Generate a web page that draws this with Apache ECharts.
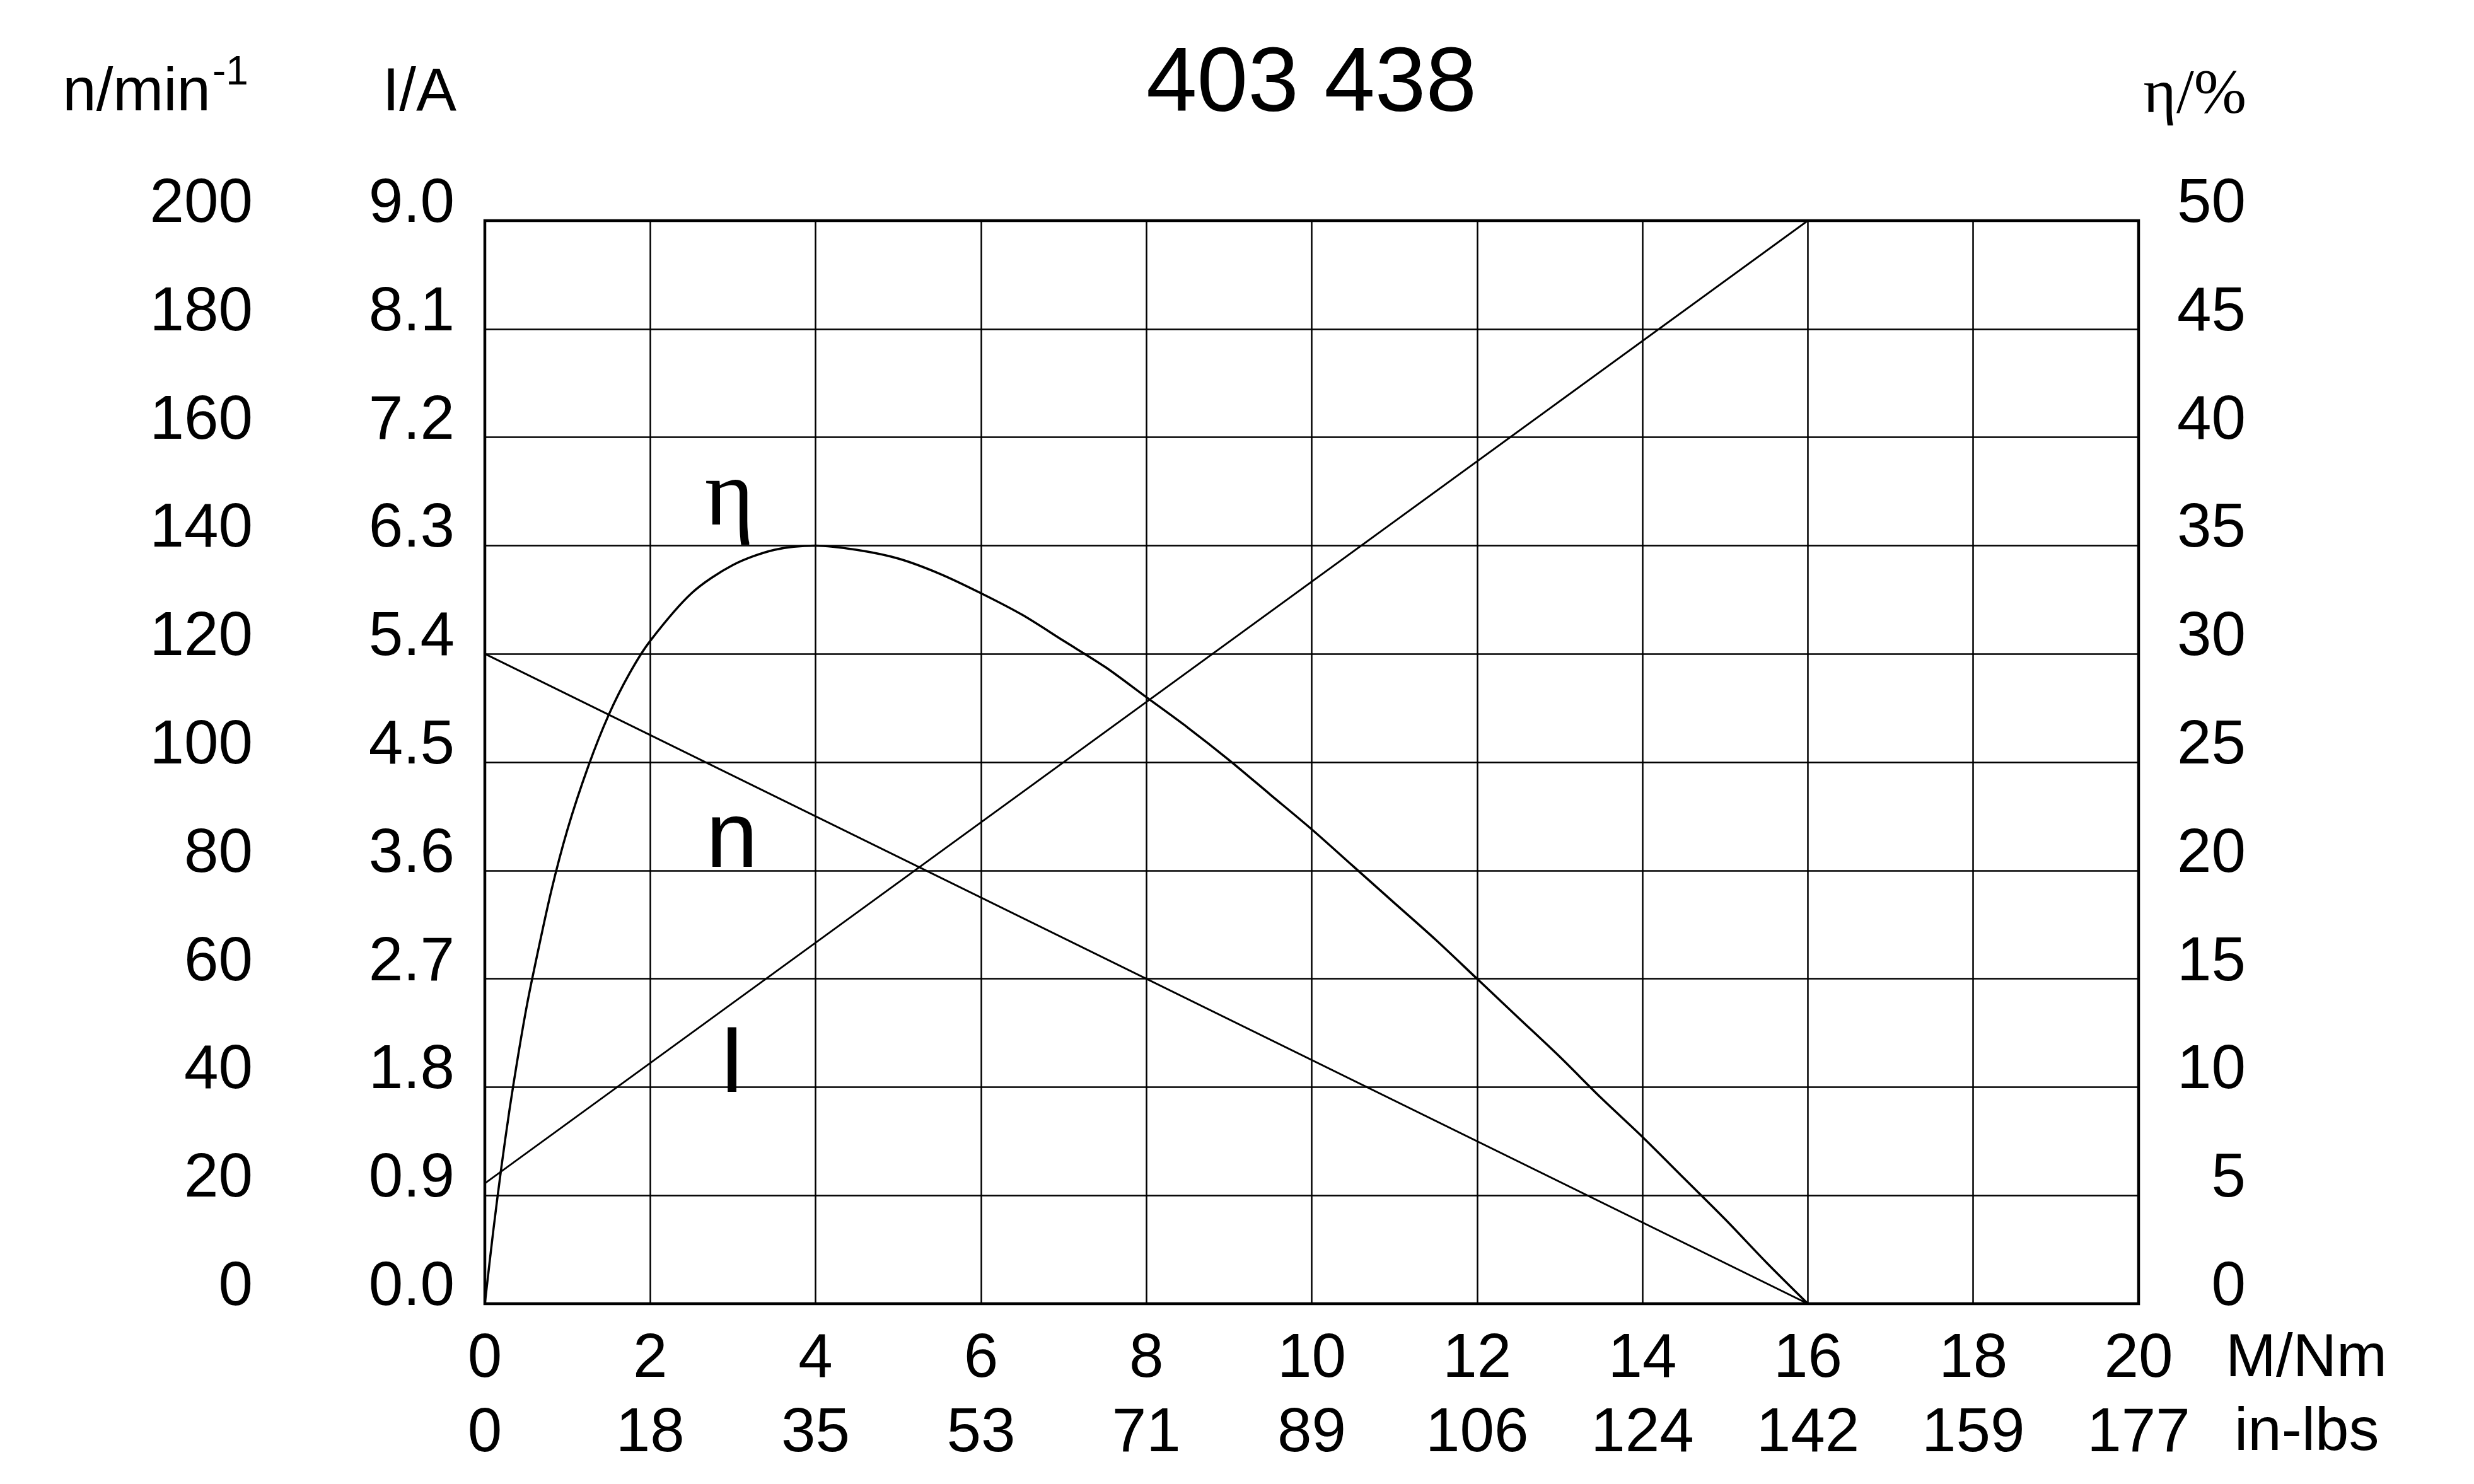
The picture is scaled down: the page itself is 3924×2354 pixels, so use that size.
<!DOCTYPE html>
<html>
<head>
<meta charset="utf-8">
<title>403 438</title>
<script src="https://cdn.jsdelivr.net/npm/echarts@6/dist/echarts.min.js"></script>
<style>
  html, body { margin: 0; padding: 0; background: #fff; }
  #chart { width: 3924px; height: 2354px; }
</style>
</head>
<body>
<div id="chart"></div>
<script>
// torque axis (M/Nm) and the matching in-lbs labels
const torqueTicks = [0, 2, 4, 6, 8, 10, 12, 14, 16, 18, 20];
const inLbsLabels = ['0', '18', '35', '53', '71', '89', '106', '124', '142', '159', '177'];

// n and I are straight lines, read at both ends
const lineTorque = [0, 16];
const speed = [120, 0];        // n / min-1
const current = [1.0, 9.0];    // I / A

// efficiency curve
const etaTorque = [0, 0.1, 0.2, 0.3, 0.4, 0.5, 0.6, 0.8, 1, 1.25, 1.5, 1.75, 2, 2.5, 3, 3.5, 4, 4.5, 5, 5.5, 6, 6.5, 7, 7.5, 8,
                   8.5, 9, 9.5, 10, 10.5, 11, 11.5, 12, 12.5, 13, 13.5, 14, 14.5, 15, 15.5, 16];
const efficiency = [0, 3.3, 6.3, 9.0, 11.4, 13.6, 15.5, 19.0, 21.9, 24.8, 27.2, 29.1, 30.6, 32.8, 34.1, 34.8, 35.0, 34.8, 34.4, 33.7, 32.8, 31.8, 30.6, 29.4, 28.0,
                    26.6, 25.1, 23.5, 21.9, 20.2, 18.5, 16.8, 15.0, 13.2, 11.4, 9.5, 7.7, 5.8, 3.9, 1.9, 0];

const sans = 'Liberation Sans, Arial, sans-serif';
const serif = 'Liberation Serif, Times New Roman, serif';
const black = '#000';

const pairs = (xs, ys) => xs.map((x, i) => [x, ys[i]]);

const chart = echarts.init(document.getElementById('chart'));

// y labels sit just above their grid line
const yLabel = {
  fontFamily: sans, fontSize: 98, color: black,
  align: 'right', verticalAlign: 'bottom', lineHeight: 50
};

const option = {
  backgroundColor: '#fff',
  animation: false,
  grid: {
    left: 769,
    top: 350,
    width: 2623,
    height: 1718,
    show: true,
    borderColor: black,
    borderWidth: 4.5,
    backgroundColor: 'transparent'
  },
  xAxis: [
    {
      type: 'value',
      min: 0,
      max: 20,
      interval: 2,
      axisLine: { show: false },
      axisTick: { show: false },
      splitLine: { show: true, lineStyle: { color: black, width: 2.5 } },
      axisLabel: {
        fontFamily: sans, fontSize: 98, color: black,
        margin: 89, verticalAlign: 'middle'
      }
    },
    {
      type: 'value',
      position: 'bottom',
      min: 0,
      max: 20,
      interval: 2,
      axisLine: { show: false },
      axisTick: { show: false },
      splitLine: { show: false },
      axisLabel: {
        fontFamily: sans, fontSize: 98, color: black,
        margin: 207, verticalAlign: 'middle',
        formatter: v => inLbsLabels[torqueTicks.indexOf(Math.round(v))]
      }
    }
  ],
  yAxis: [
    {
      // I / A
      type: 'value',
      position: 'left',
      min: 0,
      max: 9,
      interval: 0.9,
      axisLine: { show: false },
      axisTick: { show: false },
      splitLine: { show: true, lineStyle: { color: black, width: 2.5 } },
      axisLabel: Object.assign({ margin: 48, formatter: v => v.toFixed(1) }, yLabel)
    },
    {
      // n / min-1
      type: 'value',
      position: 'left',
      offset: 320,
      min: 0,
      max: 200,
      interval: 20,
      axisLine: { show: false },
      axisTick: { show: false },
      splitLine: { show: false },
      axisLabel: Object.assign({ margin: 48 }, yLabel)
    },
    {
      // eta / %
      type: 'value',
      position: 'right',
      min: 0,
      max: 50,
      interval: 5,
      axisLine: { show: false },
      axisTick: { show: false },
      splitLine: { show: false },
      axisLabel: Object.assign({ margin: 170 }, yLabel)
    }
  ],
  series: [
    {
      name: 'n',
      type: 'line',
      yAxisIndex: 1,
      data: pairs(lineTorque, speed),
      showSymbol: false,
      lineStyle: { color: black, width: 3 }
    },
    {
      name: 'I',
      type: 'line',
      yAxisIndex: 0,
      data: pairs(lineTorque, current),
      showSymbol: false,
      lineStyle: { color: black, width: 2.8 }
    },
    {
      name: 'η',
      type: 'line',
      yAxisIndex: 2,
      data: pairs(etaTorque, efficiency),
      smooth: 0.3,
      showSymbol: false,
      lineStyle: { color: black, width: 3.5 }
    }
  ],
  graphic: [
    { type: 'text', x: 2080, y: 136, style: { text: '403 438', font: '145px ' + sans, fill: black, align: 'center', verticalAlign: 'middle' } },
    { type: 'text', x: 334, y: 149, style: { text: 'n/min', font: '96px ' + sans, fill: black, align: 'right', verticalAlign: 'middle' } },
    { type: 'text', x: 337, y: 116, style: { text: '-1', font: '64px ' + sans, fill: black, align: 'left', verticalAlign: 'middle' } },
    { type: 'text', x: 724, y: 149, style: { text: 'I/A', font: '96px ' + sans, fill: black, align: 'right', verticalAlign: 'middle' } },
    { type: 'text', x: 3563, y: 152, style: { text: 'η/%', font: '100px ' + serif, fill: black, align: 'right', verticalAlign: 'middle' } },
    { type: 'text', x: 3530, y: 2157, style: { text: 'M/Nm', font: '96px ' + sans, fill: black, align: 'left', verticalAlign: 'middle' } },
    { type: 'text', x: 3544, y: 2274, style: { text: 'in-lbs', font: '96px ' + sans, fill: black, align: 'left', verticalAlign: 'middle' } },
    { type: 'text', x: 1157, y: 793, style: { text: 'η', font: '150px ' + serif, fill: black, align: 'center', verticalAlign: 'middle' } },
    { type: 'text', x: 1161, y: 1334, style: { text: 'n', font: '148px ' + sans, fill: black, align: 'center', verticalAlign: 'middle' } },
    { type: 'text', x: 1161, y: 1691, style: { text: 'I', font: '148px ' + sans, fill: black, align: 'center', verticalAlign: 'middle' } }
  ]
};

chart.setOption(option);
</script>
</body>
</html>
